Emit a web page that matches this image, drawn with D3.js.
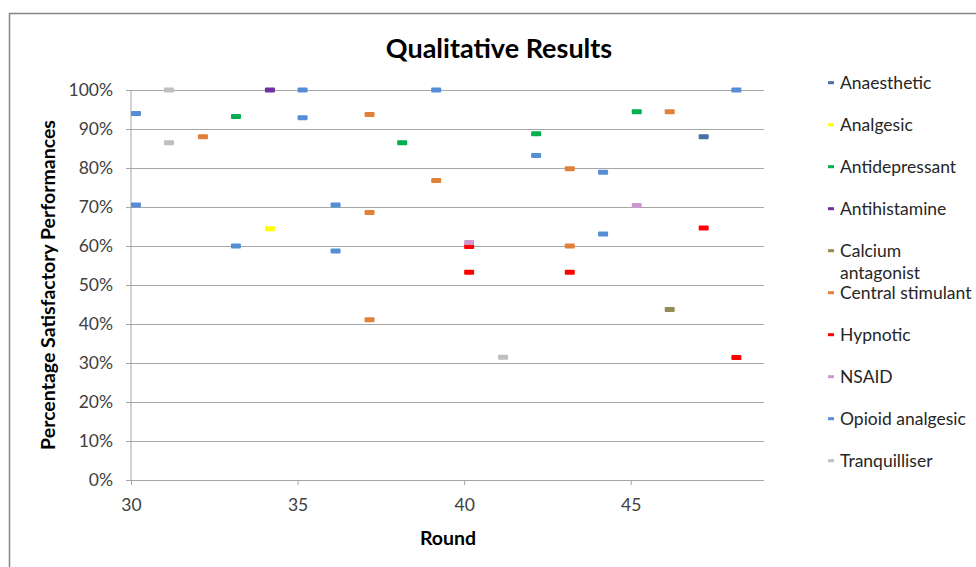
<!DOCTYPE html>
<html>
<head>
<meta charset="utf-8">
<script src="https://cdn.jsdelivr.net/npm/d3@7"></script>
<style>
    body { margin: 0; background: #fff; }
    text { font-family: Lato, "Open Sans", sans-serif; }
</style>
</head>
<body>
<div id="wrapper"></div>
<script>
// series (legend order)
const seriesNames = ["Anaesthetic", "Analgesic", "Antidepressant", "Antihistamine", "Calcium antagonist",
    "Central stimulant", "Hypnotic", "NSAID", "Opioid analgesic", "Tranquilliser"];
const seriesColors = ["#4a6fa5", "#ffff00", "#00b050", "#7030a0", "#948a54",
    "#e0813a", "#ff0000", "#cc99cc", "#558ed5", "#bfbfbf"];

// round (x) and % satisfactory (y) for each series
const anaestheticX = [47.19];
const anaestheticY = [88.0];
const analgesicX = [34.17];
const analgesicY = [64.4];
const antidepressantX = [33.15, 38.14, 42.16, 45.18];
const antidepressantY = [93.2, 86.5, 88.8, 94.4];
const antihistamineX = [34.17];
const antihistamineY = [100];
const calciumX = [46.17];
const calciumY = [43.7];
const stimulantX = [32.16, 37.16, 37.16, 37.16, 39.16, 43.17, 43.17, 46.17];
const stimulantY = [88.0, 93.7, 68.6, 41.1, 76.8, 79.8, 60.0, 94.4];
const hypnoticX = [40.15, 40.15, 43.17, 47.19, 48.17];
const hypnoticY = [59.9, 53.3, 53.3, 64.6, 31.4];
const nsaidX = [40.15, 45.18];
const nsaidY = [60.9, 70.4];
const opioidX = [30.15, 30.15, 33.15, 35.15, 35.15, 36.14, 36.14, 39.16, 42.16, 44.17, 44.17, 48.17];
const opioidY = [94.0, 70.5, 60.0, 100, 92.9, 70.5, 58.7, 100, 83.2, 78.9, 63.1, 100];
const tranqX = [31.14, 31.14, 41.17];
const tranqY = [100, 86.5, 31.5];

const xTicks = [30, 35, 40, 45];
const yTicks = [0, 10, 20, 30, 40, 50, 60, 70, 80, 90, 100];

const seriesX = [anaestheticX, analgesicX, antidepressantX, antihistamineX, calciumX,
    stimulantX, hypnoticX, nsaidX, opioidX, tranqX];
const seriesY = [anaestheticY, analgesicY, antidepressantY, antihistamineY, calciumY,
    stimulantY, hypnoticY, nsaidY, opioidY, tranqY];

const series = seriesNames.map((name, i) => ({
    name: name,
    color: seriesColors[i],
    points: seriesX[i].map((x, j) => ({x: x, y: seriesY[i][j]}))
}));

var dimension = {
    width: 976,
    height: 567,
    margin: { top: 90, left: 131, bottom: 87, right: 212 }
};
dimension.boundedWidth = dimension.width - dimension.margin.left - dimension.margin.right;
dimension.boundedHeight = dimension.height - dimension.margin.top - dimension.margin.bottom;

const svg = d3.select("#wrapper").append("svg")
    .attr("width", dimension.width)
    .attr("height", dimension.height);

// outer chart border
svg.append("rect")
    .attr("x", 9.5).attr("y", 13.5)
    .attr("width", 980).attr("height", 600)
    .attr("fill", "none")
    .attr("stroke", "#858585")
    .attr("stroke-width", 1.5);

const bounded = svg.append("g")
    .attr("transform", `translate(${dimension.margin.left},${dimension.margin.top})`);

const xScaler = d3.scaleLinear()
    .domain([30, 49])
    .range([0, dimension.boundedWidth]);

const yScaler = d3.scaleLinear()
    .domain([0, 100])
    .range([dimension.boundedHeight, 0]);

// gridlines + y axis
const yAxisGroup = bounded.append("g")
    .call(d3.axisLeft(yScaler)
        .tickValues(yTicks)
        .tickSize(-dimension.boundedWidth)
        .tickPadding(18)
        .tickFormat(d => d + "%"));
yAxisGroup.select(".domain").remove();
yAxisGroup.selectAll(".tick line")
    .attr("x1", -5)
    .attr("stroke", "#a6a6a6")
    .attr("stroke-width", 1);
yAxisGroup.selectAll(".tick text")
    .attr("font-size", "17.5px")
    .attr("fill", "#404040");

bounded.append("line")
    .attr("x1", 0).attr("x2", 0)
    .attr("y1", 0).attr("y2", dimension.boundedHeight)
    .attr("stroke", "#a6a6a6");

const xAxisGroup = bounded.append("g")
    .attr("transform", `translate(0,${dimension.boundedHeight})`)
    .call(d3.axisBottom(xScaler)
        .tickValues(xTicks)
        .tickSize(5)
        .tickPadding(14)
        .tickFormat(d3.format("d")));
xAxisGroup.select(".domain")
    .attr("stroke", "#a6a6a6")
    .attr("d", `M-5,0.5H${dimension.boundedWidth}`);
xAxisGroup.selectAll(".tick line").attr("stroke", "#a6a6a6");
xAxisGroup.selectAll(".tick text")
    .attr("font-size", "17.5px")
    .attr("fill", "#404040");

// points as short dashes
const markW = 10, markH = 5;
bounded.append("g").selectAll("g")
    .data(series)
    .join("g")
    .attr("fill", d => d.color)
    .selectAll("rect")
    .data(d => d.points)
    .join("rect")
    .attr("x", d => xScaler(d.x) - markW / 2)
    .attr("y", d => yScaler(d.y) - markH / 2)
    .attr("width", markW)
    .attr("height", markH)
    .attr("rx", 1);

// titles
svg.append("text")
    .attr("x", 499).attr("y", 57.5)
    .attr("text-anchor", "middle")
    .attr("font-size", "27px")
    .attr("font-weight", "bold")
    .attr("fill", "#000")
    .text("Qualitative Results");

svg.append("text")
    .attr("x", 448).attr("y", 545)
    .attr("text-anchor", "middle")
    .attr("font-size", "19.5px")
    .attr("font-weight", "bold")
    .attr("fill", "#000")
    .text("Round");

svg.append("text")
    .attr("transform", "translate(55,285) rotate(-90)")
    .attr("text-anchor", "middle")
    .attr("font-size", "19.5px")
    .attr("font-weight", "bold")
    .attr("fill", "#000")
    .text("Percentage Satisfactory Performances");

// legend
const legendY = d3.scalePoint()
    .domain(seriesNames)
    .range([82.7, 460.7]);

const legend = svg.append("g").selectAll("g")
    .data(series)
    .join("g")
    .attr("transform", d => `translate(828,${legendY(d.name)})`);

legend.append("rect")
    .attr("x", 0).attr("y", -1.5)
    .attr("width", 6).attr("height", 3)
    .attr("fill", d => d.color);

legend.append("text")
    .attr("x", 12)
    .attr("font-size", "17.5px")
    .attr("fill", "#262626")
    .selectAll("tspan")
    .data(d => d.name === "Calcium antagonist" ? ["Calcium", "antagonist"] : [d.name])
    .join("tspan")
    .attr("x", 12)
    .attr("dy", (d, i) => i === 0 ? "0.35em" : "22px")
    .text(d => d);
</script>
</body>
</html>
